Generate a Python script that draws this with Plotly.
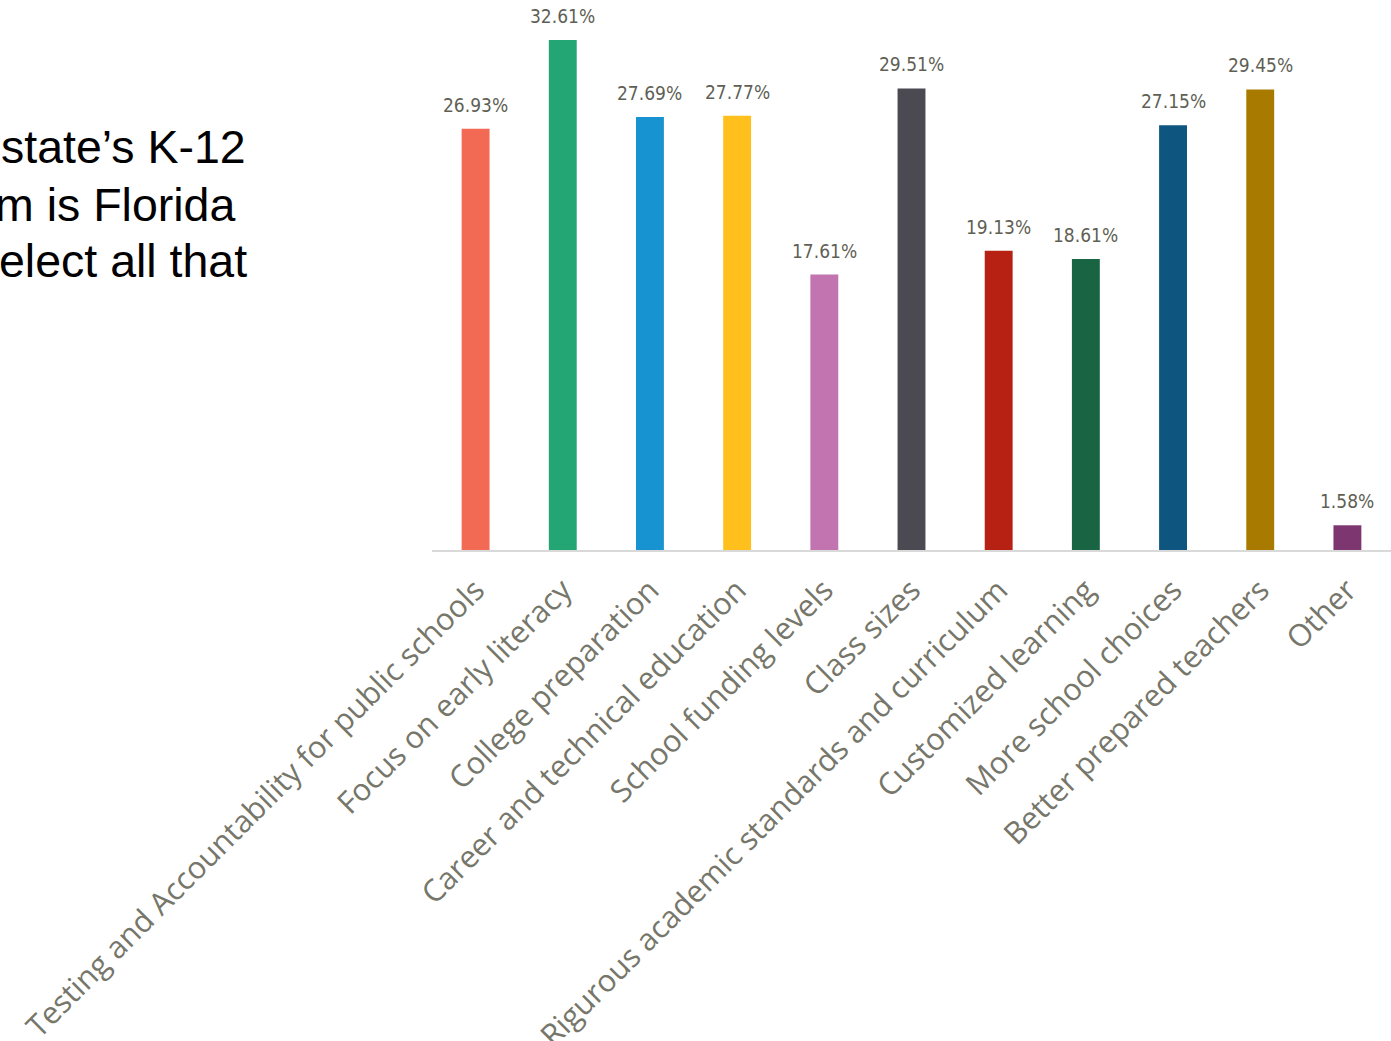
import plotly.graph_objects as go

categories = [
    "Testing and Accountability for public schools",
    "Focus on early literacy",
    "College preparation",
    "Career and technical education",
    "School funding levels",
    "Class sizes",
    "Rigurous academic standards and curriculum",
    "Customized learning",
    "More school choices",
    "Better prepared teachers",
    "Other",
]
values = [26.93, 32.61, 27.69, 27.77, 17.61, 29.51, 19.13, 18.61, 27.15, 29.45, 1.58]
colors = ["#F26A53", "#23A574", "#1793D1", "#FFC01D", "#C274B0", "#4B4A52",
          "#B62113", "#186443", "#0E567F", "#A87B00", "#7E3670"]
title_lines = ["state’s K-12", "m is Florida", "elect all that"]

W, H = 1391, 1041
L, B = 432, 1041 - 550
plot_h = H - B

fig = go.Figure(go.Bar(
    x=categories, y=values,
    marker=dict(color=colors, line=dict(width=0)),
    hoverinfo="x+y",
))

for c, v in zip(categories, values):
    fig.add_annotation(
        x=c, y=v, xref="x", yref="y", text=f"{v:.2f}%", showarrow=False,
        yanchor="bottom", yshift=11,
        font=dict(family="DejaVu Sans Condensed, DejaVu Sans", size=19, color="#5f5f55"),
    )

fig.update_layout(
    width=W, height=H,
    margin=dict(l=L, r=0, t=0, b=B, autoexpand=False),
    paper_bgcolor="white", plot_bgcolor="white",
    bargap=0.68,
    showlegend=False,
    xaxis=dict(
        tickangle=-45, tickfont=dict(family="Open Sans", size=30.6, color="#76766A"),
        showline=True, linecolor="#D9D9D9", linewidth=2, showgrid=False,
        ticks="outside", ticklen=8, tickcolor="rgba(0,0,0,0)", automargin=False,
    ),
    yaxis=dict(range=[0, plot_h / 15.64], visible=False, showgrid=False, automargin=False),
)

ys = [147, 205, 261]
rights = [248, 237, 249]
for t, y, r in zip(title_lines, ys, rights):
    fig.add_annotation(
        text=t, xref="paper", yref="paper",
        x=(r - L) / (W - L), y=1 - y / plot_h,
        xanchor="right", yanchor="middle", showarrow=False,
        font=dict(family="Liberation Sans, Arial", size=46.5, color="#000000"),
    )

fig.write_html(
    "out.html",
    config={"displayModeBar": False},
    post_script="document.body.style.margin='0';document.body.style.overflow='hidden';",
)
